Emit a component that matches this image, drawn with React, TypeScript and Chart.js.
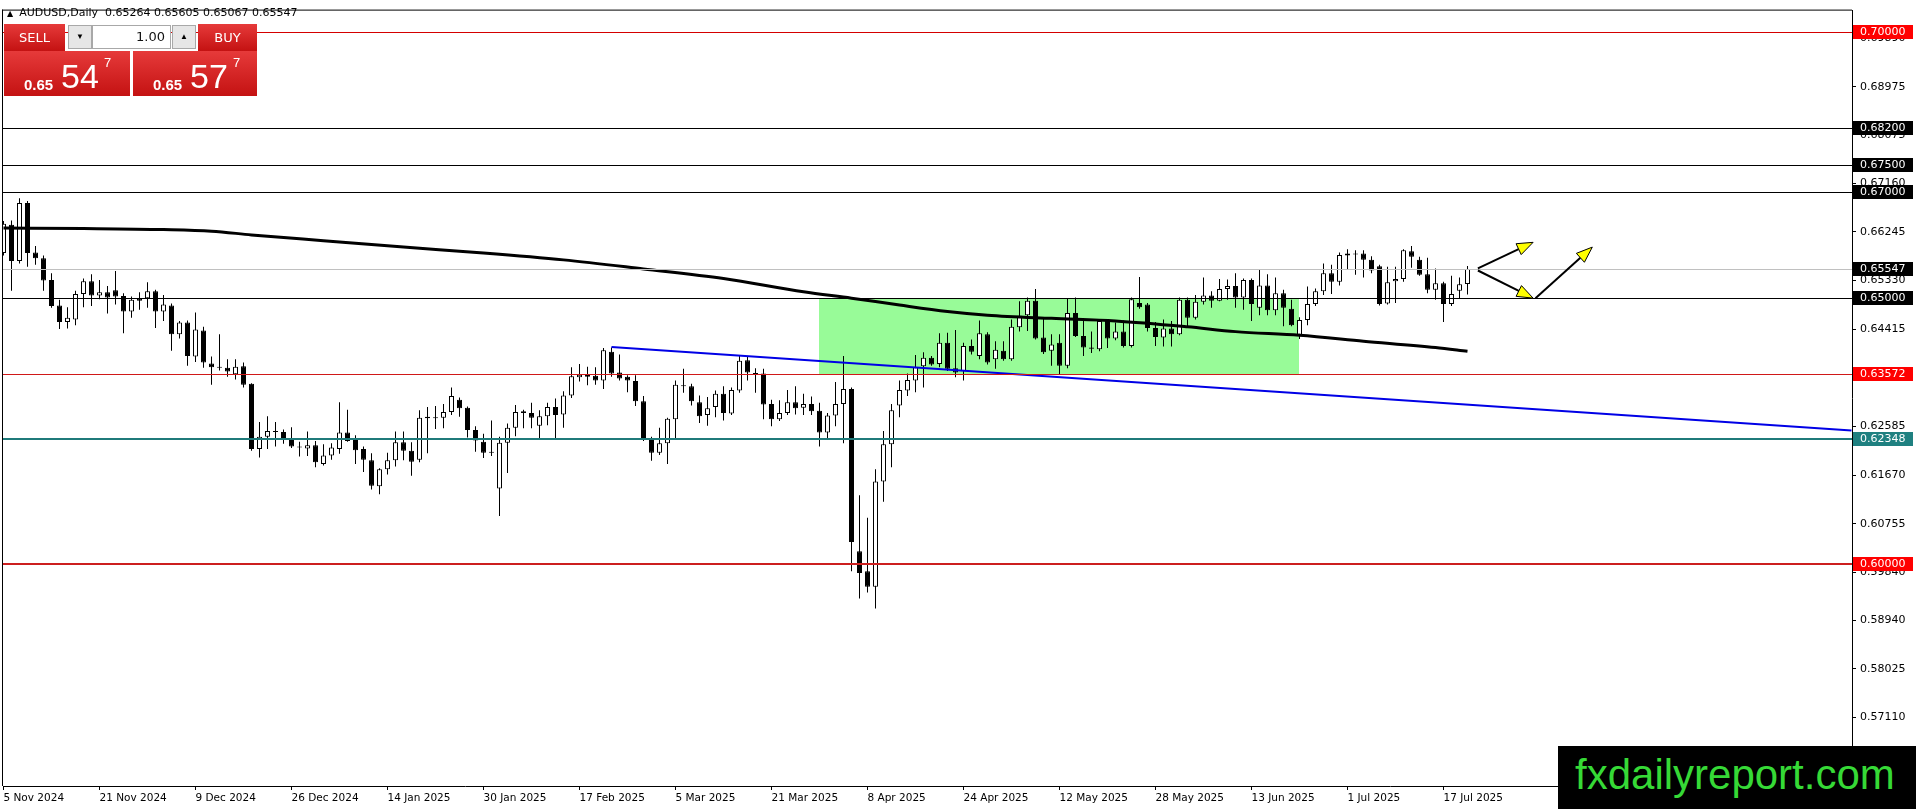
import { useEffect, useRef } from "react";
import { Chart, registerables } from "chart.js";

Chart.register(...registerables);

// one label every 12 daily bars
const dateLabels = [
  "5 Nov 2024", "21 Nov 2024", "9 Dec 2024", "26 Dec 2024", "14 Jan 2025", "30 Jan 2025",
  "17 Feb 2025", "5 Mar 2025", "21 Mar 2025", "8 Apr 2025", "24 Apr 2025", "12 May 2025",
  "28 May 2025", "13 Jun 2025", "1 Jul 2025", "17 Jul 2025",
];
const barsPerLabel = 12;

const open = [
  0.6585, 0.6638, 0.6570, 0.6679, 0.6586, 0.6575, 0.6534, 0.6486, 0.6455, 0.6460, 0.6508, 0.6532,
  0.6505, 0.6511, 0.6515, 0.6504, 0.6475, 0.6500, 0.6500, 0.6513, 0.6475, 0.6486, 0.6432, 0.6454,
  0.6390, 0.6439, 0.6377, 0.6371, 0.6369, 0.6357, 0.6372, 0.6339, 0.6216, 0.6239, 0.6250, 0.6248,
  0.6233, 0.6221, 0.6217, 0.6223, 0.6188, 0.6204, 0.6216, 0.6247, 0.6233, 0.6216, 0.6195, 0.6146,
  0.6178, 0.6195, 0.6229, 0.6213, 0.6196, 0.6274, 0.6274, 0.6275, 0.6286, 0.6309, 0.6294, 0.6252,
  0.6230, 0.6211, 0.6142, 0.6228, 0.6256, 0.6287, 0.6284, 0.6260, 0.6278, 0.6295, 0.6281, 0.6317,
  0.6351, 0.6356, 0.6354, 0.6345, 0.6399, 0.6360, 0.6352, 0.6344, 0.6306, 0.6236, 0.6209, 0.6227,
  0.6272, 0.6336, 0.6334, 0.6304, 0.6280, 0.6295, 0.6320, 0.6283, 0.6326, 0.6383, 0.6359, 0.6358,
  0.6301, 0.6272, 0.6284, 0.6304, 0.6294, 0.6301, 0.6288, 0.6247, 0.6279, 0.6301, 0.6329, 0.6024,
  0.5986, 0.5957, 0.6155, 0.6225, 0.6298, 0.6326, 0.6345, 0.6372, 0.6388, 0.6376, 0.6416, 0.6368,
  0.6363, 0.6410, 0.6391, 0.6432, 0.6385, 0.6401, 0.6385, 0.6445, 0.6468, 0.6495, 0.6426, 0.6401,
  0.6416, 0.6373, 0.6472, 0.6429, 0.6407, 0.6404, 0.6457, 0.6424, 0.6437, 0.6410, 0.6491, 0.6488,
  0.6444, 0.6426, 0.6443, 0.6432, 0.6497, 0.6463, 0.6493, 0.6505, 0.6495, 0.6517, 0.6523, 0.6501,
  0.6534, 0.6482, 0.6524, 0.6477, 0.6509, 0.6480, 0.6431, 0.6459, 0.6489, 0.6513, 0.6547, 0.6531,
  0.6580, 0.6584, 0.6584, 0.6572, 0.6560, 0.6490, 0.6532, 0.6536, 0.6588, 0.6572, 0.6545, 0.6516,
  0.6528, 0.6489, 0.6514, 0.65264,
];
const high = [
  0.6645, 0.6646, 0.6688, 0.6683, 0.6598, 0.6580, 0.6547, 0.6497, 0.6483, 0.6514, 0.6537, 0.6545,
  0.6534, 0.6523, 0.6551, 0.6509, 0.6503, 0.6511, 0.6530, 0.6516, 0.6506, 0.6490, 0.6457, 0.6458,
  0.6473, 0.6446, 0.6390, 0.6432, 0.6385, 0.6385, 0.6379, 0.6340, 0.6267, 0.6278, 0.6267, 0.6253,
  0.6257, 0.6230, 0.6249, 0.6231, 0.6225, 0.6227, 0.6304, 0.6290, 0.6242, 0.6221, 0.6208, 0.6180,
  0.6209, 0.6249, 0.6249, 0.6229, 0.6289, 0.6295, 0.6297, 0.6301, 0.6332, 0.6313, 0.6296, 0.6259,
  0.6245, 0.6270, 0.6239, 0.6264, 0.6299, 0.6290, 0.6303, 0.6289, 0.6303, 0.6311, 0.6325, 0.6370,
  0.6376, 0.6371, 0.6370, 0.6406, 0.6407, 0.6394, 0.6355, 0.6355, 0.6316, 0.6239, 0.6256, 0.6275,
  0.6345, 0.6367, 0.6339, 0.6317, 0.6314, 0.6326, 0.6334, 0.6332, 0.6393, 0.6391, 0.6368, 0.6367,
  0.6309, 0.6308, 0.6327, 0.6334, 0.6320, 0.6315, 0.6303, 0.6284, 0.6342, 0.6391, 0.6332, 0.6129,
  0.6087, 0.6178, 0.6250, 0.6301, 0.6345, 0.6358, 0.6393, 0.6398, 0.6391, 0.6434, 0.6435, 0.6440,
  0.6416, 0.6422, 0.6458, 0.6436, 0.6419, 0.6419, 0.6460, 0.6494, 0.6501, 0.6517, 0.6464, 0.6432,
  0.6432, 0.6500, 0.6501, 0.6457, 0.6437, 0.6460, 0.6460, 0.6454, 0.6458, 0.6501, 0.6540, 0.6491,
  0.6455, 0.6460, 0.6457, 0.6501, 0.6501, 0.6506, 0.6539, 0.6513, 0.6536, 0.6535, 0.6547, 0.6537,
  0.6537, 0.6553, 0.6545, 0.6539, 0.6516, 0.6497, 0.6464, 0.6522, 0.6518, 0.6565, 0.6563, 0.6586,
  0.6592, 0.6590, 0.6590, 0.6579, 0.6563, 0.6559, 0.6559, 0.6592, 0.6598, 0.6578, 0.6576, 0.6556,
  0.6531, 0.6542, 0.6539, 0.65605,
];
const low = [
  0.6580, 0.6514, 0.6565, 0.6559, 0.6563, 0.6514, 0.6482, 0.6442, 0.6443, 0.6449, 0.6483, 0.6485,
  0.6498, 0.6471, 0.6488, 0.6434, 0.6463, 0.6478, 0.6482, 0.6444, 0.6457, 0.6401, 0.6424, 0.6373,
  0.6380, 0.6369, 0.6337, 0.6364, 0.6352, 0.6347, 0.6332, 0.6213, 0.6200, 0.6216, 0.6221, 0.6226,
  0.6218, 0.6202, 0.6203, 0.6182, 0.6185, 0.6196, 0.6207, 0.6230, 0.6188, 0.6173, 0.6140, 0.6131,
  0.6168, 0.6183, 0.6195, 0.6166, 0.6191, 0.6208, 0.6254, 0.6255, 0.6280, 0.6277, 0.6238, 0.6211,
  0.6199, 0.6203, 0.6090, 0.6171, 0.6240, 0.6255, 0.6255, 0.6236, 0.6261, 0.6236, 0.6256, 0.6312,
  0.6343, 0.6336, 0.6337, 0.6329, 0.6352, 0.6345, 0.6323, 0.6297, 0.6231, 0.6194, 0.6205, 0.6188,
  0.6234, 0.6322, 0.6298, 0.6265, 0.6260, 0.6276, 0.6270, 0.6280, 0.6322, 0.6345, 0.6322, 0.6272,
  0.6259, 0.6269, 0.6280, 0.6281, 0.6280, 0.6280, 0.6221, 0.6236, 0.6259, 0.6227, 0.5986, 0.5935,
  0.5946, 0.5916, 0.6117, 0.6182, 0.6276, 0.6316, 0.6323, 0.6332, 0.6373, 0.6370, 0.6363, 0.6351,
  0.6345, 0.6394, 0.6385, 0.6375, 0.6367, 0.6382, 0.6382, 0.6437, 0.6438, 0.6422, 0.6395, 0.6373,
  0.6357, 0.6368, 0.6427, 0.6391, 0.6397, 0.6400, 0.6406, 0.6421, 0.6407, 0.6407, 0.6480, 0.6437,
  0.6410, 0.6409, 0.6409, 0.6430, 0.6447, 0.6460, 0.6488, 0.6482, 0.6494, 0.6497, 0.6482, 0.6478,
  0.6457, 0.6468, 0.6468, 0.6468, 0.6447, 0.6447, 0.6423, 0.6449, 0.6485, 0.6506, 0.6508, 0.6524,
  0.6555, 0.6544, 0.6539, 0.6547, 0.6486, 0.6488, 0.6491, 0.6531, 0.6557, 0.6542, 0.6509, 0.6497,
  0.6455, 0.6485, 0.6499, 0.65067,
];
const close = [
  0.6640, 0.6570, 0.6679, 0.6585, 0.6575, 0.6533, 0.6485, 0.6455, 0.6463, 0.6508, 0.6532, 0.6505,
  0.6511, 0.6501, 0.6503, 0.6475, 0.6497, 0.6495, 0.6513, 0.6475, 0.6488, 0.6432, 0.6454, 0.6391,
  0.6441, 0.6379, 0.6370, 0.6369, 0.6362, 0.6371, 0.6337, 0.6216, 0.6239, 0.6250, 0.6248, 0.6237,
  0.6221, 0.6219, 0.6223, 0.6191, 0.6204, 0.6219, 0.6247, 0.6231, 0.6214, 0.6196, 0.6147, 0.6178,
  0.6195, 0.6229, 0.6213, 0.6192, 0.6275, 0.6277, 0.6276, 0.6286, 0.6316, 0.6293, 0.6252, 0.6232,
  0.6209, 0.6209, 0.6228, 0.6256, 0.6286, 0.6284, 0.6275, 0.6278, 0.6295, 0.6280, 0.6317, 0.6353,
  0.6356, 0.6352, 0.6345, 0.6402, 0.6358, 0.6349, 0.6345, 0.6306, 0.6234, 0.6209, 0.6227, 0.6273,
  0.6337, 0.6334, 0.6306, 0.6278, 0.6293, 0.6320, 0.6284, 0.6327, 0.6382, 0.6360, 0.6357, 0.6300,
  0.6272, 0.6284, 0.6304, 0.6293, 0.6301, 0.6287, 0.6247, 0.6279, 0.6301, 0.6329, 0.6041, 0.5983,
  0.5957, 0.6155, 0.6225, 0.6289, 0.6327, 0.6346, 0.6370, 0.6388, 0.6375, 0.6416, 0.6367, 0.6360,
  0.6410, 0.6399, 0.6434, 0.6379, 0.6403, 0.6385, 0.6446, 0.6467, 0.6495, 0.6424, 0.6398, 0.6413,
  0.6373, 0.6472, 0.6429, 0.6407, 0.6405, 0.6457, 0.6424, 0.6437, 0.6410, 0.6498, 0.6483, 0.6444,
  0.6427, 0.6443, 0.6432, 0.6497, 0.6463, 0.6493, 0.6505, 0.6495, 0.6517, 0.6523, 0.6501, 0.6534,
  0.6489, 0.6524, 0.6477, 0.6509, 0.6482, 0.6449, 0.6459, 0.6489, 0.6513, 0.6547, 0.6531, 0.6581,
  0.6584, 0.6582, 0.6572, 0.6552, 0.6489, 0.6530, 0.6536, 0.6590, 0.6578, 0.6544, 0.6516, 0.6528,
  0.6489, 0.6508, 0.6526, 0.65547,
];

// moving average (bar index -> value)
const maBars = [0, 10, 20, 26, 31, 40, 50, 60, 70, 80, 90, 100, 106, 112, 118, 123, 131, 139, 148, 154, 162, 170, 179, 183];
const maValues = [
  0.6632, 0.6631, 0.6629, 0.6626, 0.6619, 0.6608, 0.6596, 0.6585, 0.6572, 0.6555, 0.6537, 0.6512,
  0.6500, 0.6487, 0.6475, 0.6468, 0.6462, 0.6457, 0.6446, 0.6437, 0.6430, 0.6419, 0.6407, 0.6400,
];

// blue trend ray
const trendBars = [76, 231];
const trendValues = [0.6408, 0.6251];

// green range box
const zoneBars = [101.9, 161.9];
const zonePrices = [0.6357, 0.65];

// horizontal levels
const levelValues = [0.7, 0.682, 0.675, 0.67, 0.65547, 0.65, 0.63572, 0.62348, 0.6];
const priceTicks = [
  0.5711, 0.58025, 0.5894, 0.5984, 0.60755, 0.6167, 0.62585, 0.635, 0.64415, 0.6533, 0.66245, 0.6716,
  0.68075, 0.68975, 0.6989,
];

// yellow arrows (bar, price) -> (bar, price)
const arrowFromBars = [184.3, 184.3, 191.5];
const arrowFromPrices = [0.6556, 0.6552, 0.65];
const arrowToBars = [191.2, 191.2, 198.6];
const arrowToPrices = [0.6605, 0.65, 0.6596];

const levelStyles = [
  { line: "#d40000", width: 1, box: "#ff0000" },
  { line: "#000000", width: 1, box: "#000000" },
  { line: "#000000", width: 1, box: "#000000" },
  { line: "#000000", width: 1, box: "#000000" },
  { line: "#c0c0c0", width: 1, box: "#000000" },
  { line: "#000000", width: 1, box: "#000000" },
  { line: "#d01818", width: 1, box: "#ff0000" },
  { line: "#1f7a7a", width: 2, box: "#1f8080" },
  { line: "#cc1f1f", width: 2, box: "#ff0000" },
];

const FONT = '"DejaVu Sans", sans-serif';

function drawArrow(ctx: CanvasRenderingContext2D, x0: number, y0: number, x1: number, y1: number) {
  const dx = x1 - x0;
  const dy = y1 - y0;
  const len = Math.hypot(dx, dy);
  const ux = dx / len;
  const uy = dy / len;
  const headLen = 16;
  const headHalf = 6;
  const bx = x1 - ux * headLen;
  const by = y1 - uy * headLen;
  ctx.strokeStyle = "#000";
  ctx.lineWidth = 2;
  ctx.beginPath();
  ctx.moveTo(x0, y0);
  ctx.lineTo(bx, by);
  ctx.stroke();
  ctx.beginPath();
  ctx.moveTo(x1, y1);
  ctx.lineTo(bx - uy * headHalf, by + ux * headHalf);
  ctx.lineTo(bx + uy * headHalf, by - ux * headHalf);
  ctx.closePath();
  ctx.fillStyle = "#ffff00";
  ctx.fill();
  ctx.lineWidth = 1;
  ctx.stroke();
}

const overlayPlugin = {
  id: "mt4Overlay",
  beforeDatasetsDraw(chart: any) {
    const { ctx, scales } = chart;
    const { x, y } = scales;
    const x0 = Math.round(x.getPixelForValue(zoneBars[0]));
    const x1 = Math.round(x.getPixelForValue(zoneBars[1]));
    const y0 = Math.round(y.getPixelForValue(zonePrices[1]));
    const y1 = Math.round(y.getPixelForValue(zonePrices[0]));
    ctx.save();
    ctx.fillStyle = "#98fb98";
    ctx.fillRect(x0, y0, x1 - x0, y1 - y0);
    ctx.restore();
  },
  afterDatasetsDraw(chart: any) {
    const { ctx, chartArea, scales } = chart;
    const { x, y } = scales;
    ctx.save();
    levelValues.forEach((v, i) => {
      const st = levelStyles[i];
      const py = Math.round(y.getPixelForValue(v));
      ctx.fillStyle = st.line;
      ctx.fillRect(chartArea.left, st.width === 2 ? py - 1 : py, chartArea.right - chartArea.left, st.width);
    });
    ctx.beginPath();
    ctx.rect(chartArea.left, chartArea.top, chartArea.right - chartArea.left, chartArea.bottom - chartArea.top);
    ctx.clip();
    arrowFromBars.forEach((b, i) => {
      drawArrow(
        ctx,
        x.getPixelForValue(b),
        y.getPixelForValue(arrowFromPrices[i]),
        x.getPixelForValue(arrowToBars[i]),
        y.getPixelForValue(arrowToPrices[i]),
      );
    });
    ctx.restore();
  },
  afterDraw(chart: any) {
    const { ctx, chartArea, scales } = chart;
    const { y } = scales;
    ctx.save();
    ctx.fillStyle = "#000";
    ctx.fillRect(chartArea.left - 1, chartArea.top - 1, chartArea.right - chartArea.left + 1, 1);
    ctx.fillRect(chartArea.left - 1, chartArea.top - 1, 1, chartArea.bottom - chartArea.top + 1);
    ctx.font = `11px ${FONT}`;
    ctx.textBaseline = "middle";
    ctx.textAlign = "left";
    levelValues.forEach((v, i) => {
      const py = Math.round(y.getPixelForValue(v));
      ctx.fillStyle = levelStyles[i].box;
      ctx.fillRect(chartArea.right + 1, py - 7, 60, 14);
      ctx.fillStyle = "#fff";
      ctx.fillText(v.toFixed(5), chartArea.right + 8, py + 0.5);
    });
    ctx.restore();
  },
};

function CandleChart() {
  const canvasRef = useRef<HTMLCanvasElement>(null);
  const chartRef = useRef<Chart | null>(null);

  useEffect(() => {
    if (!canvasRef.current) return;
    chartRef.current?.destroy();
    const yMax = 0.7041;
    const yMin = 0.55821;
    chartRef.current = new Chart(canvasRef.current, {
      type: "bar",
      data: {
        datasets: [
          {
            type: "line",
            label: "MA",
            data: maBars.map((b, i) => ({ x: b, y: maValues[i] })),
            borderColor: "#000",
            borderWidth: 3,
            pointRadius: 0,
            cubicInterpolationMode: "monotone",
            order: 0,
            clip: 0,
          },
          {
            type: "line",
            label: "Trend",
            data: trendBars.map((b, i) => ({ x: b, y: trendValues[i] })),
            borderColor: "#0000e6",
            borderWidth: 2,
            pointRadius: 0,
            order: 0,
            clip: 0,
          },
          {
            type: "bar",
            label: "Body",
            data: open.map((o, i) => ({ x: i, y: [o, close[i]] })),
            backgroundColor: open.map((o, i) => (close[i] >= o ? "#ffffff" : "#000000")),
            borderColor: "#000",
            borderWidth: 1,
            borderSkipped: false,
            barThickness: 5,
            maxBarThickness: 5,
            barPercentage: 1,
            categoryPercentage: 1,
            grouped: false,
            minBarLength: 1,
            inflateAmount: 0,
            order: 1,
            clip: 0,
          },
          {
            type: "bar",
            label: "Wick",
            data: low.map((l, i) => ({ x: i, y: [l, high[i]] })),
            backgroundColor: "#000",
            borderWidth: 0,
            barThickness: 1,
            maxBarThickness: 1,
            barPercentage: 1,
            categoryPercentage: 1,
            grouped: false,
            minBarLength: 1,
            inflateAmount: 0,
            order: 2,
            clip: 0,
          },
        ] as any,
      },
      options: {
        responsive: false,
        animation: false,
        events: [],
        layout: { padding: { left: 3, top: 3, right: 0, bottom: 0 }, autoPadding: false },
        plugins: { legend: { display: false }, tooltip: { enabled: false } },
        scales: {
          x: {
            type: "linear",
            min: -0.0625,
            max: 231.0625,
            offset: false,
            bounds: "data",
            afterBuildTicks: (s: any) => {
              s.ticks = dateLabels.map((_, i) => ({ value: i * barsPerLabel }));
            },
            afterFit: (s: any) => {
              s.height = 23;
            },
            ticks: {
              autoSkip: false,
              maxRotation: 0,
              align: "start",
              padding: 2,
              color: "#000",
              font: { family: FONT, size: 10.5 },
              callback: (_v: any, i: number) => dateLabels[i],
            },
            grid: { drawOnChartArea: false, drawTicks: true, tickLength: 4, color: "#000", offset: false },
            border: { display: true, color: "#000", width: 1 },
          },
          y: {
            type: "linear",
            position: "right",
            min: yMin,
            max: yMax,
            bounds: "data",
            afterBuildTicks: (s: any) => {
              s.ticks = priceTicks.map((v) => ({ value: v }));
            },
            afterFit: (s: any) => {
              s.width = 64;
            },
            ticks: {
              autoSkip: false,
              padding: 4,
              color: "#000",
              font: { family: FONT, size: 11 },
              callback: (v: any) => Number(v).toFixed(5),
            },
            grid: { drawOnChartArea: false, drawTicks: true, tickLength: 4, color: "#000" },
            border: { display: true, color: "#000", width: 1 },
          },
        } as any,
      },
      plugins: [overlayPlugin],
    });
    return () => chartRef.current?.destroy();
  }, []);

  return <canvas ref={canvasRef} width={1916} height={809} style={{ display: "block", width: 1916, height: 809 }} />;
}

const redGrad = "linear-gradient(#e63a3a, #c41212)";
const ARIAL = '"Liberation Sans", Arial, sans-serif';

function PriceBox({ left, width, big }: { left: number; width: number; big: string }) {
  return (
    <div style={{ position: "absolute", left, top: 51, width, height: 45, background: redGrad, color: "#fff", fontFamily: ARIAL }}>
      <span style={{ position: "absolute", left: 20, top: 26, fontSize: 15, fontWeight: "bold", lineHeight: 1 }}>0.65</span>
      <span style={{ position: "absolute", left: 57, top: 8, fontSize: 34, lineHeight: 1 }}>{big}</span>
      <span style={{ position: "absolute", left: 100, top: 5, fontSize: 13, lineHeight: 1 }}>7</span>
    </div>
  );
}

export default function App() {
  const btn = { position: "absolute" as const, top: 24, height: 27, background: redGrad, color: "#fff", fontFamily: FONT, fontSize: 13, lineHeight: "27px", textAlign: "center" as const };
  const grayBox = { position: "absolute" as const, top: 25, width: 24, height: 24, boxSizing: "border-box" as const, background: "#e6e6e6", border: "1px solid #a8a8a8", fontSize: 8, lineHeight: "22px", textAlign: "center" as const, color: "#000" };
  return (
    <div style={{ position: "absolute", left: 0, top: 0, width: 1916, height: 809, background: "#fff", overflow: "hidden" }}>
      <CandleChart />
      <div style={{ position: "absolute", left: 7, top: 6, fontFamily: FONT, fontSize: 11, lineHeight: "14px", color: "#000", whiteSpace: "pre" }}>
        <span style={{ fontSize: 8, marginRight: 6 }}>▲</span>
        {"AUDUSD,Daily  0.65264 0.65605 0.65067 0.65547"}
      </div>
      <div style={{ ...btn, left: 4, width: 61 }}>SELL</div>
      <div style={{ ...grayBox, left: 68 }}>▼</div>
      <div style={{ position: "absolute", left: 92, top: 25, width: 79, height: 24, boxSizing: "border-box", background: "#fff", border: "1px solid #a8a8a8", fontFamily: FONT, fontSize: 13, lineHeight: "22px", textAlign: "right", paddingRight: 5, color: "#111" }}>1.00</div>
      <div style={{ ...grayBox, left: 172 }}>▲</div>
      <div style={{ ...btn, left: 198, width: 59 }}>BUY</div>
      <PriceBox left={4} width={126} big="54" />
      <PriceBox left={133} width={124} big="57" />
      <div style={{ position: "absolute", left: 1558, top: 746, width: 358, height: 63, background: "#000" }}>
        <span style={{ position: "absolute", left: 17, top: 8, fontFamily: ARIAL, fontSize: 42, lineHeight: 1, color: "#36d936" }}>fxdailyreport.com</span>
      </div>
    </div>
  );
}
